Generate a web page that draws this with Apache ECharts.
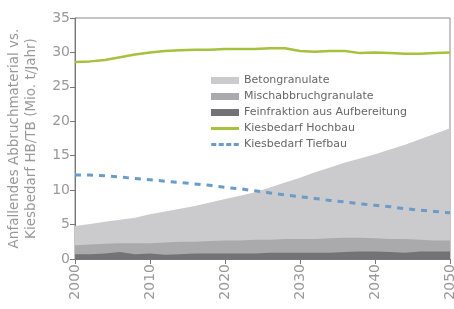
<!DOCTYPE html>
<html><head><meta charset="utf-8">
<script src="https://cdn.jsdelivr.net/npm/echarts@6/dist/echarts.min.js"></script>
<style>html,body{margin:0;padding:0;background:#fff}#c{width:454px;height:309px}</style>
</head><body><div id="c"></div>
<script>
const years = [2000,2002,2004,2006,2008,2010,2012,2014,2016,2018,2020,2022,2024,2026,2028,2030,2032,2034,2036,2038,2040,2042,2044,2046,2048,2050];
// cumulative tops of the layered areas
const totalTop = [4.8,5.1,5.4,5.7,6.0,6.5,6.9,7.3,7.7,8.2,8.7,9.2,9.7,10.4,11.1,11.8,12.6,13.3,14.0,14.6,15.2,15.9,16.6,17.4,18.2,19.0];
const mischTop = [2.0,2.1,2.2,2.3,2.3,2.3,2.4,2.5,2.5,2.6,2.7,2.7,2.8,2.8,2.9,2.9,2.9,3.0,3.1,3.1,3.0,2.9,2.9,2.8,2.7,2.7];
const feinfraktion = [0.7,0.7,0.8,1.0,0.7,0.8,0.6,0.7,0.8,0.8,0.8,0.8,0.8,0.9,0.9,0.9,0.9,0.9,1.0,1.1,1.1,1.0,0.9,1.1,1.1,1.1];
const hochbau = [28.6,28.7,28.9,29.3,29.7,30.0,30.2,30.3,30.4,30.4,30.5,30.5,30.5,30.6,30.6,30.2,30.1,30.2,30.2,29.9,30.0,29.9,29.8,29.8,29.9,30.0];
const tiefbau = [12.2,12.2,12.1,11.9,11.7,11.5,11.3,11.1,10.9,10.7,10.4,10.2,9.9,9.6,9.3,9.05,8.8,8.5,8.3,8.0,7.8,7.6,7.3,7.1,6.9,6.7];
const names = ['Betongranulate','Mischabbruchgranulate','Feinfraktion aus Aufbereitung','Kiesbedarf Hochbau','Kiesbedarf Tiefbau'];

const pairs = arr => years.map((y,i)=>[y, arr[i]]);
const font = 'DejaVu Sans';
const chart = echarts.init(document.getElementById('c'));
const area = (name, data, color, z) => ({
  name, type:'line', data, symbol:'none', showSymbol:false,
  lineStyle:{width:0}, itemStyle:{color}, areaStyle:{color, opacity:1, origin:'start'}, z
});
chart.setOption({
  animation:false,
  grid:{left:75, right:4, top:18, bottom:50, show:true, borderColor:'#8a8a8a', borderWidth:1,
        containLabel:false, outerBoundsMode:'none'},
  legend:[{
    orient:'vertical', left:206, top:70, itemWidth:28, itemHeight:7, itemGap:5,
    textStyle:{fontFamily:font, fontSize:11, color:'#666', lineHeight:11},
    data:[
      {name:names[0], icon:'rect'},
      {name:names[1], icon:'rect'},
      {name:names[2], icon:'rect'}
    ]
  },{
    orient:'vertical', left:206, top:118, itemWidth:28, itemHeight:3, itemGap:5,
    textStyle:{fontFamily:font, fontSize:11, color:'#666', lineHeight:11},
    data:[
      {name:names[3], icon:'rect'},
      {name:names[4], icon:'path://M0,0h5v3h-5zM7.5,0h5v3h-5zM15,0h5v3h-5zM22.5,0h5v3h-5z'}
    ]
  }],
  xAxis:{type:'value', min:2000, max:2050, interval:10,
    axisLine:{lineStyle:{color:'#777'}}, axisTick:{show:true, length:5, lineStyle:{color:'#777'}},
    splitLine:{show:false},
    axisLabel:{rotate:90, fontFamily:font, fontSize:14, color:'#999', margin:5, formatter:v=>String(v)}},
  yAxis:{type:'value', min:0, max:35, interval:5,
    name:'Anfallendes Abbruchmaterial vs.\nKiesbedarf HB/TB (Mio. t/Jahr)',
    nameLocation:'middle', nameGap:35,
    nameTextStyle:{fontFamily:font, fontSize:13.5, color:'#999', lineHeight:17},
    axisLine:{show:true, lineStyle:{color:'#777'}}, axisTick:{show:true, length:5, lineStyle:{color:'#777'}},
    splitLine:{show:false},
    axisLabel:{fontFamily:font, fontSize:14, color:'#999', margin:5}},
  series:[
    area(names[0], pairs(totalTop), '#cbcbcd', 1),
    area(names[1], pairs(mischTop), '#aaaaac', 2),
    area(names[2], pairs(feinfraktion), '#737375', 3),
    {name:names[3], type:'line', data:pairs(hochbau), symbol:'none', itemStyle:{color:'#a6c13c'}, lineStyle:{color:'#a6c13c', width:2.5}, z:5},
    {name:names[4], type:'line', data:pairs(tiefbau), symbol:'none', itemStyle:{color:'#6a9bc9'}, lineStyle:{color:'#6a9bc9', width:3, type:[6,6]}, z:5}
  ]
});
</script></body></html>
